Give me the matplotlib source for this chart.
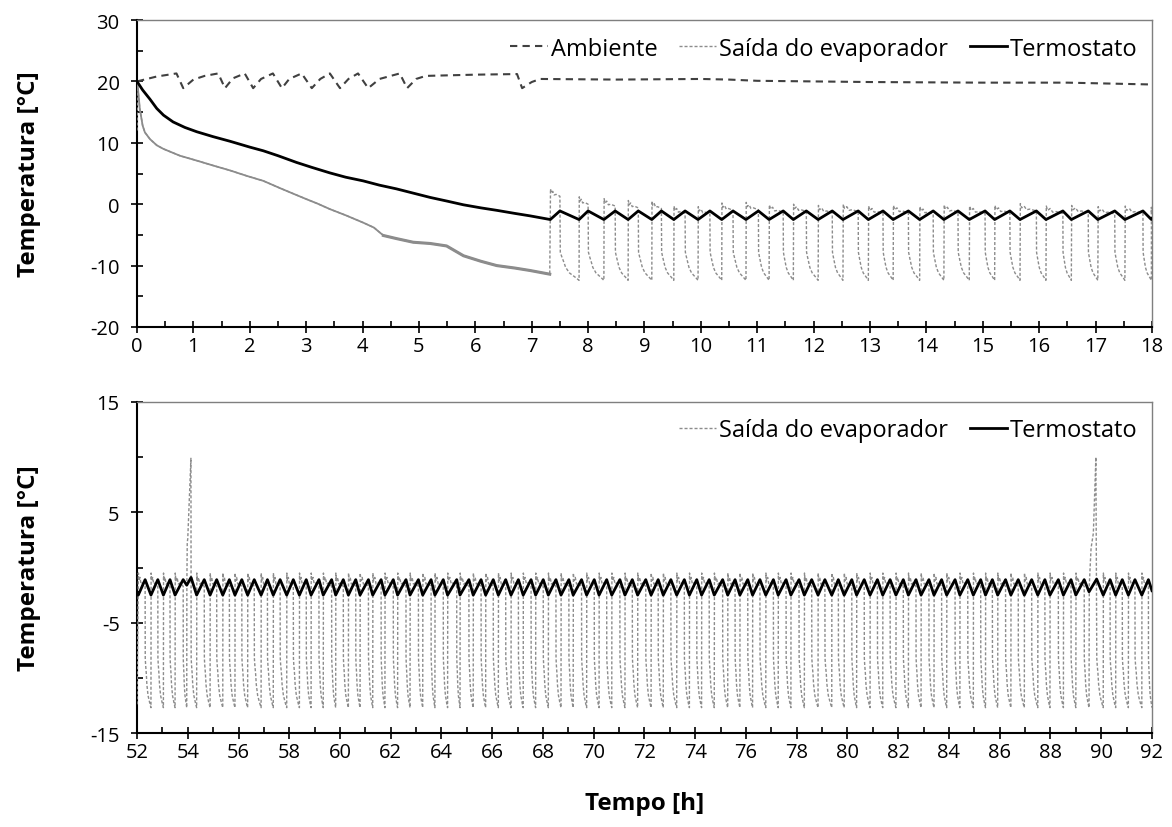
import matplotlib

matplotlib.use("Agg")

import matplotlib.pyplot as plt
import numpy as np
from matplotlib.ticker import MultipleLocator

plt.rcParams["font.family"] = ["Open Sans", "DejaVu Sans"]
plt.rcParams["axes.unicode_minus"] = False

# ---- top panel (0-18 h): pull-down and first cycles ----
amb_t = [0.0, 0.35, 0.70, 0.82, 1.0, 1.2, 1.44, 1.56, 1.7, 1.91, 2.06, 2.2, 2.41, 2.57, 2.7, 2.92,
         3.10, 3.25, 3.42, 3.60, 3.75, 3.92, 4.10, 4.3, 4.66, 4.79, 4.95, 5.12, 6.0, 6.74, 6.83,
         7.0, 7.15, 8.5, 10.0, 10.5, 11.0, 13.0, 15.0, 16.5, 18.0]
amb_T = [20.0, 20.8, 21.3, 18.9, 20.3, 20.9, 21.3, 18.9, 20.5, 21.3, 18.9, 20.4, 21.3, 18.9, 20.4, 21.3,
         18.9, 20.4, 21.3, 18.9, 20.4, 21.3, 18.9, 20.4, 21.3, 18.9, 20.4, 20.9, 21.1, 21.2, 18.9,
         19.9, 20.4, 20.3, 20.4, 20.3, 20.1, 19.9, 19.8, 19.8, 19.5]

evap_pull_t = [0.0, 0.01, 0.05, 0.1, 0.14, 0.23, 0.35, 0.47, 0.76, 1.06, 1.35, 1.65, 1.95, 2.24,
               2.54, 2.8, 3.01, 3.2, 3.42, 3.7, 4.01, 4.2, 4.37, 4.6, 4.9, 5.2, 5.49, 5.79, 6.1,
               6.38, 6.7, 6.97, 7.32]
evap_pull_T = [12.0, 19.5, 15.5, 12.8, 11.7, 10.6, 9.6, 9.0, 7.9, 7.1, 6.3, 5.5, 4.6, 3.8,
               2.6, 1.6, 0.8, 0.1, -0.8, -1.8, -3.0, -3.8, -5.1, -5.6, -6.2, -6.4, -6.8, -8.4, -9.3,
               -10.0, -10.4, -10.8, -11.4]

thermo_pull_t = [0.0, 0.1, 0.23, 0.35, 0.47, 0.64, 0.85, 1.06, 1.35, 1.65, 2.0, 2.24, 2.5, 2.83,
                 3.1, 3.42, 3.7, 4.01, 4.3, 4.60, 4.9, 5.20, 5.5, 5.79, 6.1, 6.38, 6.7, 6.97]
thermo_pull_T = [20.0, 18.6, 17.1, 15.6, 14.5, 13.4, 12.5, 11.8, 11.0, 10.25, 9.3, 8.7, 7.9, 6.8,
                 6.0, 5.1, 4.4, 3.8, 3.1, 2.5, 1.8, 1.1, 0.5, -0.1, -0.6, -1.0, -1.5, -1.9]

top_troughs = [7.33, 7.84, 8.28, 8.71, 9.13, 9.52, 9.95, 10.37, 10.80, 11.21, 11.64, 12.08, 12.52,
               12.97, 13.41, 13.88, 14.31, 14.76, 15.21, 15.66, 16.12, 16.57, 17.04, 17.52, 17.99]
top_peaks = [7.50, 8.00, 8.48, 8.89, 9.30, 9.72, 10.16, 10.57, 11.02, 11.46, 11.87, 12.33, 12.79,
             13.23, 13.68, 14.12, 14.56, 15.04, 15.48, 15.95, 16.42, 16.87, 17.34, 17.84]
top_spikes = [2.5, 1.2, 0.9, 0.6, 0.5, -0.3, -0.4, 0.2, 0.3, -0.1, 0.0, -0.2, 0.0,
              -0.3, -0.2, -0.4, -0.1, -0.3, -0.2, 0.1, -0.3, -0.2, -0.4, -0.3, -0.5]

# ---- bottom panel (52-92 h): steady cycling ----
bot_troughs = [52.05, 52.55, 53.04, 53.50, 53.96, 54.35, 54.88, 55.38, 55.86, 56.36, 56.89, 57.37,
               57.90, 58.40, 58.86, 59.34, 59.83, 60.33, 60.79, 61.29, 61.77, 62.27, 62.76, 63.26,
               63.74, 64.24, 64.73, 65.25, 65.74, 66.24, 66.74, 67.22, 67.71, 68.21, 68.71, 69.19,
               69.72, 70.21, 70.71, 71.23, 71.73, 72.26, 72.74, 73.27, 73.77, 74.25, 74.75, 75.28,
               75.76, 76.26, 76.78, 77.27, 77.77, 78.30, 78.84, 79.38, 79.87, 80.36, 80.89, 81.39,
               81.91, 82.40, 82.90, 83.41, 83.91, 84.43, 84.96, 85.44, 85.92, 86.44, 86.97, 87.50,
               87.98, 88.51, 89.00, 89.52, 90.08, 90.57, 91.07, 91.60]
bot_peaks = [52.32, 52.82, 53.30, 53.82, 54.13, 54.65, 55.14, 55.64, 56.13, 56.62, 57.14, 57.64,
             58.16, 58.67, 59.17, 59.67, 60.13, 60.62, 61.12, 61.62, 62.10, 62.60, 63.09, 63.59,
             64.07, 64.60, 65.08, 65.56, 66.04, 66.53, 67.03, 67.53, 68.01, 68.51, 69.02, 69.52,
             70.02, 70.51, 71.03, 71.52, 72.05, 72.54, 73.04, 73.57, 74.06, 74.55, 75.08, 75.57,
             76.07, 76.55, 77.08, 77.58, 78.09, 78.59, 79.11, 79.64, 80.17, 80.66, 81.18, 81.68,
             82.20, 82.70, 83.21, 83.71, 84.24, 84.74, 85.25, 85.71, 86.23, 86.73, 87.26, 87.78,
             88.31, 88.81, 89.33, 89.82, 90.35, 90.83, 91.33, 91.86]
bot_thermo_special = {53.96: -1.6, 54.13: -0.9, 89.52: -2.2, 89.82: -1.05}

# defrost spikes of the evaporator outlet (start at a trough)
defrost = {
    53.96: ([53.96, 53.965, 53.98, 54.0, 54.125], [-11.6, -1.5, 2.3, 2.6, 9.9]),
    89.52: ([89.52, 89.53, 89.60, 89.69, 89.79, 89.81], [-12.5, -1.6, 1.75, 3.1, 10.0, -1.0]),
}

# cycle shape (fraction of phase, temperature)
on_f = [0.02, 0.08, 0.2, 0.3, 0.5, 0.8, 1.0]
top_on_T = [-7.8, -8.4, -9.4, -10.3, -11.2, -11.9, -12.4]
bot_on_T = [-8.2, -8.8, -9.6, -10.6, -11.6, -12.3, -12.7]
off_f = [0.02, 0.1, 0.25, 0.4, 0.6, 1.0]
off_dT = [0.0, -0.7, -0.4, -1.0, -0.9, -1.2]
bot_spike = -0.5

T_PEAK, T_TROUGH = -1.1, -2.5


def thermo_cycles(troughs, peaks, special=None):
    special = special or {}
    ev = sorted([(t, T_TROUGH) for t in troughs] + [(t, T_PEAK) for t in peaks])
    return [t for t, _ in ev], [special.get(t, v) for t, v in ev]


def evap_cycles(t0, v0, troughs, peaks, t_end, on_T, spikes, defrost=None):
    defrost = defrost or {}
    ev = sorted([(t, "off") for t in troughs] + [(t, "on") for t in peaks])
    bounds = [t for t, _ in ev] + [t_end]
    ts, vs = [t0], [v0]
    k = 0
    for i, (ta, kind) in enumerate(ev):
        dt = bounds[i + 1] - ta
        if kind == "on":
            ts += [ta + f * dt for f in on_f]
            vs += list(on_T)
            continue
        if ta in defrost:
            ts += defrost[ta][0]
            vs += defrost[ta][1]
        else:
            h = spikes[k] if isinstance(spikes, list) else spikes
            ts += [ta + f * dt for f in off_f]
            vs += [h + d for d in off_dT]
        k += 1
    return np.array(ts), np.array(vs)


top_th_t, top_th_T = thermo_cycles(top_troughs, top_peaks)
top_th_t = thermo_pull_t + top_th_t + [18.0]
top_th_T = thermo_pull_T + top_th_T + [-2.4]

ev_t, ev_T = evap_cycles(evap_pull_t[-1], evap_pull_T[-1], top_troughs, top_peaks, 18.0,
                         top_on_T, top_spikes)
top_ev_t = np.concatenate([evap_pull_t[:-1], ev_t])
top_ev_T = np.concatenate([evap_pull_T[:-1], ev_T])

bot_th_t, bot_th_T = thermo_cycles(bot_troughs, bot_peaks, bot_thermo_special)
bot_th_t = [52.0] + bot_th_t + [92.0]
bot_th_T = [-2.2] + bot_th_T + [-2.1]

bot_ev_t, bot_ev_T = evap_cycles(52.0, -12.4, bot_troughs, bot_peaks, 92.0, bot_on_T, bot_spike,
                                 defrost)

fig = plt.figure(figsize=(11.72, 8.28), dpi=100)
ax1 = fig.add_axes([0.1169, 0.6039, 0.866, 0.3707])
ax2 = fig.add_axes([0.1169, 0.1135, 0.866, 0.3998])

evap_style = dict(color="#8c8c8c", lw=1.0, ls=(0, (2.2, 1.4)))
amb_style = dict(color="#404040", lw=1.5, ls=(0, (3.5, 2.5)))
th_style = dict(color="black", lw=2.0)

ax1.plot(amb_t, amb_T, label="Ambiente", zorder=2, **amb_style)
ax1.plot(top_ev_t, top_ev_T, label="Saída do evaporador", zorder=3, **evap_style)
# pull-down part of the measured signal is dense, so it reads as a solid trace
ax1.plot(evap_pull_t[1:], evap_pull_T[1:], color="#8c8c8c", lw=1.3, zorder=3)
noisy = (top_ev_t >= 4.3) & (top_ev_t <= 7.32)
ax1.plot(top_ev_t[noisy], top_ev_T[noisy], color="#8c8c8c", lw=2.2, zorder=3)
ax1.plot(top_th_t, top_th_T, label="Termostato", zorder=4, **th_style)

ax2.plot(bot_ev_t, bot_ev_T, label="Saída do evaporador", zorder=3, **evap_style)
ax2.plot(bot_th_t, bot_th_T, label="Termostato", zorder=4, **th_style)

ax1.set_xlim(0, 18)
ax1.set_ylim(-20, 30)
ax1.xaxis.set_major_locator(MultipleLocator(1))
ax1.xaxis.set_minor_locator(MultipleLocator(0.5))
ax1.yaxis.set_major_locator(MultipleLocator(10))
ax1.yaxis.set_minor_locator(MultipleLocator(5))

ax2.set_xlim(52, 92)
ax2.set_ylim(-15, 15)
ax2.xaxis.set_major_locator(MultipleLocator(2))
ax2.xaxis.set_minor_locator(MultipleLocator(1))
ax2.set_yticks([-15, -5, 5, 15])
ax2.set_yticks([-10, 0, 10], minor=True)

for ax in (ax1, ax2):
    ax.tick_params(axis="both", which="major", direction="inout", length=9, width=1.2,
                   labelsize=14.5, color="black")
    ax.tick_params(axis="both", which="minor", direction="in", length=4.5, width=1.2, color="black")
    ax.tick_params(axis="x", which="major", pad=2)
    ax.tick_params(axis="y", which="major", pad=8)
    for side in ("left", "bottom"):
        ax.spines[side].set_linewidth(1.5)
        ax.spines[side].set_color("black")
    for side in ("top", "right"):
        ax.spines[side].set_linewidth(1.0)
        ax.spines[side].set_color("#7f7f7f")
    ax.set_ylabel("Temperatura [°C]", fontsize=17.5, fontweight="bold")
    ax.yaxis.set_label_coords(-0.095, 0.5)

ax2.set_xlabel("Tempo [h]", fontsize=17.5, fontweight="bold")
ax2.xaxis.set_label_coords(0.5, -0.175)

leg_kw = dict(loc="upper right", bbox_to_anchor=(1.007, 1.015), frameon=False, fontsize=17,
              handlelength=1.6, handletextpad=0.12, columnspacing=0.9)
ax1.legend(ncol=3, **leg_kw)
ax2.legend(ncol=2, **leg_kw)

fig.savefig("out.png", dpi=100)
